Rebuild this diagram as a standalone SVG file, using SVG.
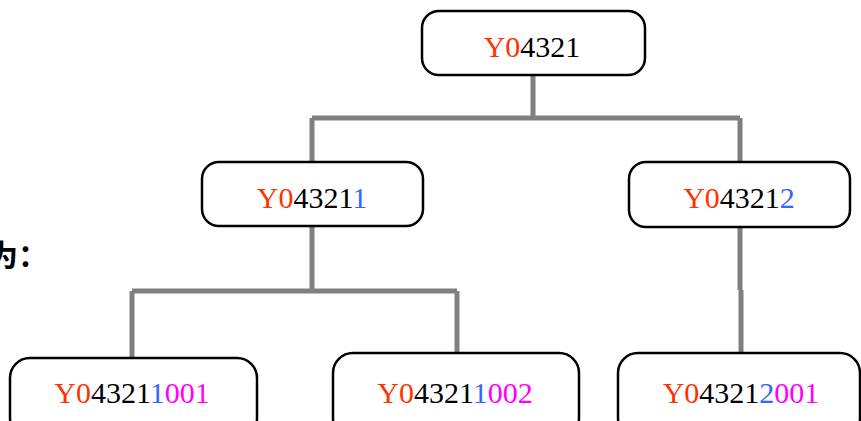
<svg xmlns="http://www.w3.org/2000/svg" width="861" height="421" viewBox="0 0 861 421">
<style>
.box{fill:#fff;stroke:#000;stroke-width:2.5}
.lbl{font-family:'Liberation Serif',serif;font-size:30px;fill:#000;text-anchor:middle}
.r{fill:#FF3300}.b{fill:#3366FF}.m{fill:#FF00FF}
.conn{fill:none;stroke:#808080;stroke-width:5}
</style>
<rect width="861" height="421" fill="#fff"/>
<text x="-12" y="266" font-family="'Noto Sans CJK SC',sans-serif" font-size="30" font-weight="bold" fill="#000">为：</text>
<g id="connectors">
<path class="conn" d="M533,75 V118 M312,118 H740 M312,118 V162 M740,118 V162"/>
<path class="conn" d="M312,226 V291 M132,291 H457 M132,291 V358 M457,291 V353"/>
<path class="conn" d="M740,227 V290 M741,290 V353"/>
</g>
<g id="n1"><rect class="box" x="422" y="11" width="223" height="64" rx="17"/>
<text class="lbl" x="532" y="57"><tspan class="r">Y0</tspan>4321</text></g>
<g id="n2"><rect class="box" x="202" y="162" width="221" height="64" rx="17"/>
<text class="lbl" x="312" y="208"><tspan class="r">Y0</tspan>4321<tspan class="b">1</tspan></text></g>
<g id="n3"><rect class="box" x="629" y="162" width="221" height="65" rx="17"/>
<text class="lbl" x="739" y="208"><tspan class="r">Y0</tspan>4321<tspan class="b">2</tspan></text></g>
<g id="n4"><rect class="box" x="10" y="358" width="247" height="80" rx="20"/>
<text class="lbl" x="132" y="403"><tspan class="r">Y0</tspan>4321<tspan class="b">1</tspan><tspan class="m">001</tspan></text></g>
<g id="n5"><rect class="box" x="333" y="353" width="246" height="85" rx="20"/>
<text class="lbl" x="455" y="403"><tspan class="r">Y0</tspan>4321<tspan class="b">1</tspan><tspan class="m">002</tspan></text></g>
<g id="n6"><rect class="box" x="618" y="353" width="242" height="85" rx="20"/>
<text class="lbl" x="741" y="403"><tspan class="r">Y0</tspan>4321<tspan class="b">2</tspan><tspan class="m">001</tspan></text></g>
</svg>
